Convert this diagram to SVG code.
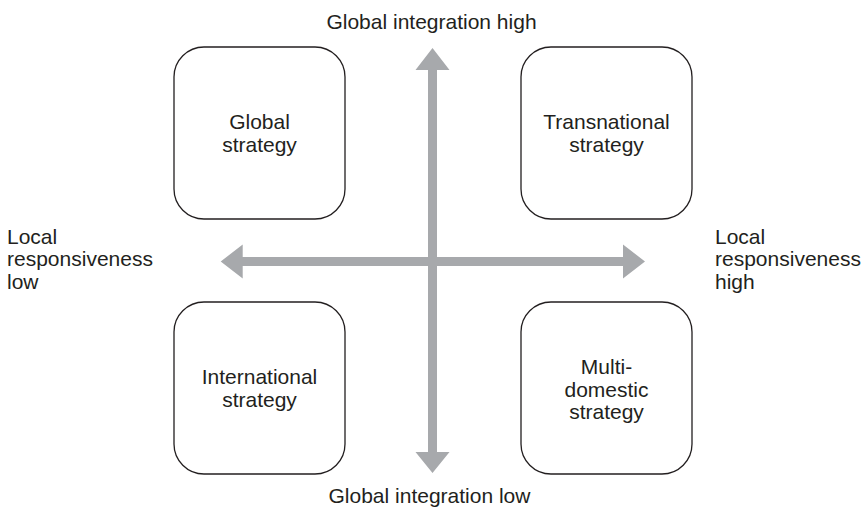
<svg xmlns="http://www.w3.org/2000/svg" width="868" height="509" viewBox="0 0 868 509">
  <style>
    .box { fill: #ffffff; stroke: #231f20; stroke-width: 1.3; }
    .lbl { font-family: "Liberation Sans", Arial, Helvetica, sans-serif; font-size: 21px; fill: #231f20; }
    .mid { text-anchor: middle; }
    .axis { fill: #a7a9ac; }
  </style>
  <rect width="868" height="509" fill="#ffffff"/>

  <!-- axes: two double-headed arrows crossing at the centre -->
  <g id="connectors">
    <polygon class="axis" points="428,70 415.5,70 432.5,48 449.5,70 437,70 437,452 449.5,452 432.5,473 415.5,452 428,452"/>
    <polygon class="axis" points="242.7,257 242.7,244.5 220.7,261.5 242.7,278.5 242.7,266 623,266 623,278.5 645,261.5 623,244.5 623,257"/>
  </g>

  <g id="global-strategy">
    <rect class="box" x="174" y="47" width="171" height="172" rx="30" ry="30"/>
    <text class="lbl mid" x="259.5" y="128.5">Global</text>
    <text class="lbl mid" x="259.5" y="152">strategy</text>
  </g>

  <g id="transnational-strategy">
    <rect class="box" x="521" y="47" width="171" height="172" rx="30" ry="30"/>
    <text class="lbl mid" x="606.5" y="128.5">Transnational</text>
    <text class="lbl mid" x="606.5" y="152">strategy</text>
  </g>

  <g id="international-strategy">
    <rect class="box" x="174" y="302" width="171" height="172" rx="30" ry="30"/>
    <text class="lbl mid" x="259.5" y="383.5">International</text>
    <text class="lbl mid" x="259.5" y="407">strategy</text>
  </g>

  <g id="multidomestic-strategy">
    <rect class="box" x="521" y="302" width="171" height="172" rx="30" ry="30"/>
    <text class="lbl mid" x="606.5" y="373.5">Multi-</text>
    <text class="lbl mid" x="606.5" y="396.5">domestic</text>
    <text class="lbl mid" x="606.5" y="419">strategy</text>
  </g>

  <!-- axis end labels -->
  <g id="label-top">
    <text class="lbl mid" x="431.5" y="28.5">Global integration high</text>
  </g>
  <g id="label-bottom">
    <text class="lbl mid" x="429.5" y="503">Global integration low</text>
  </g>
  <g id="label-left">
    <text class="lbl" x="7" y="243.5">Local</text>
    <text class="lbl" x="7" y="266">responsiveness</text>
    <text class="lbl" x="7" y="288.5">low</text>
  </g>
  <g id="label-right">
    <text class="lbl" x="715" y="243.5">Local</text>
    <text class="lbl" x="715" y="266">responsiveness</text>
    <text class="lbl" x="715" y="288.5">high</text>
  </g>
</svg>
